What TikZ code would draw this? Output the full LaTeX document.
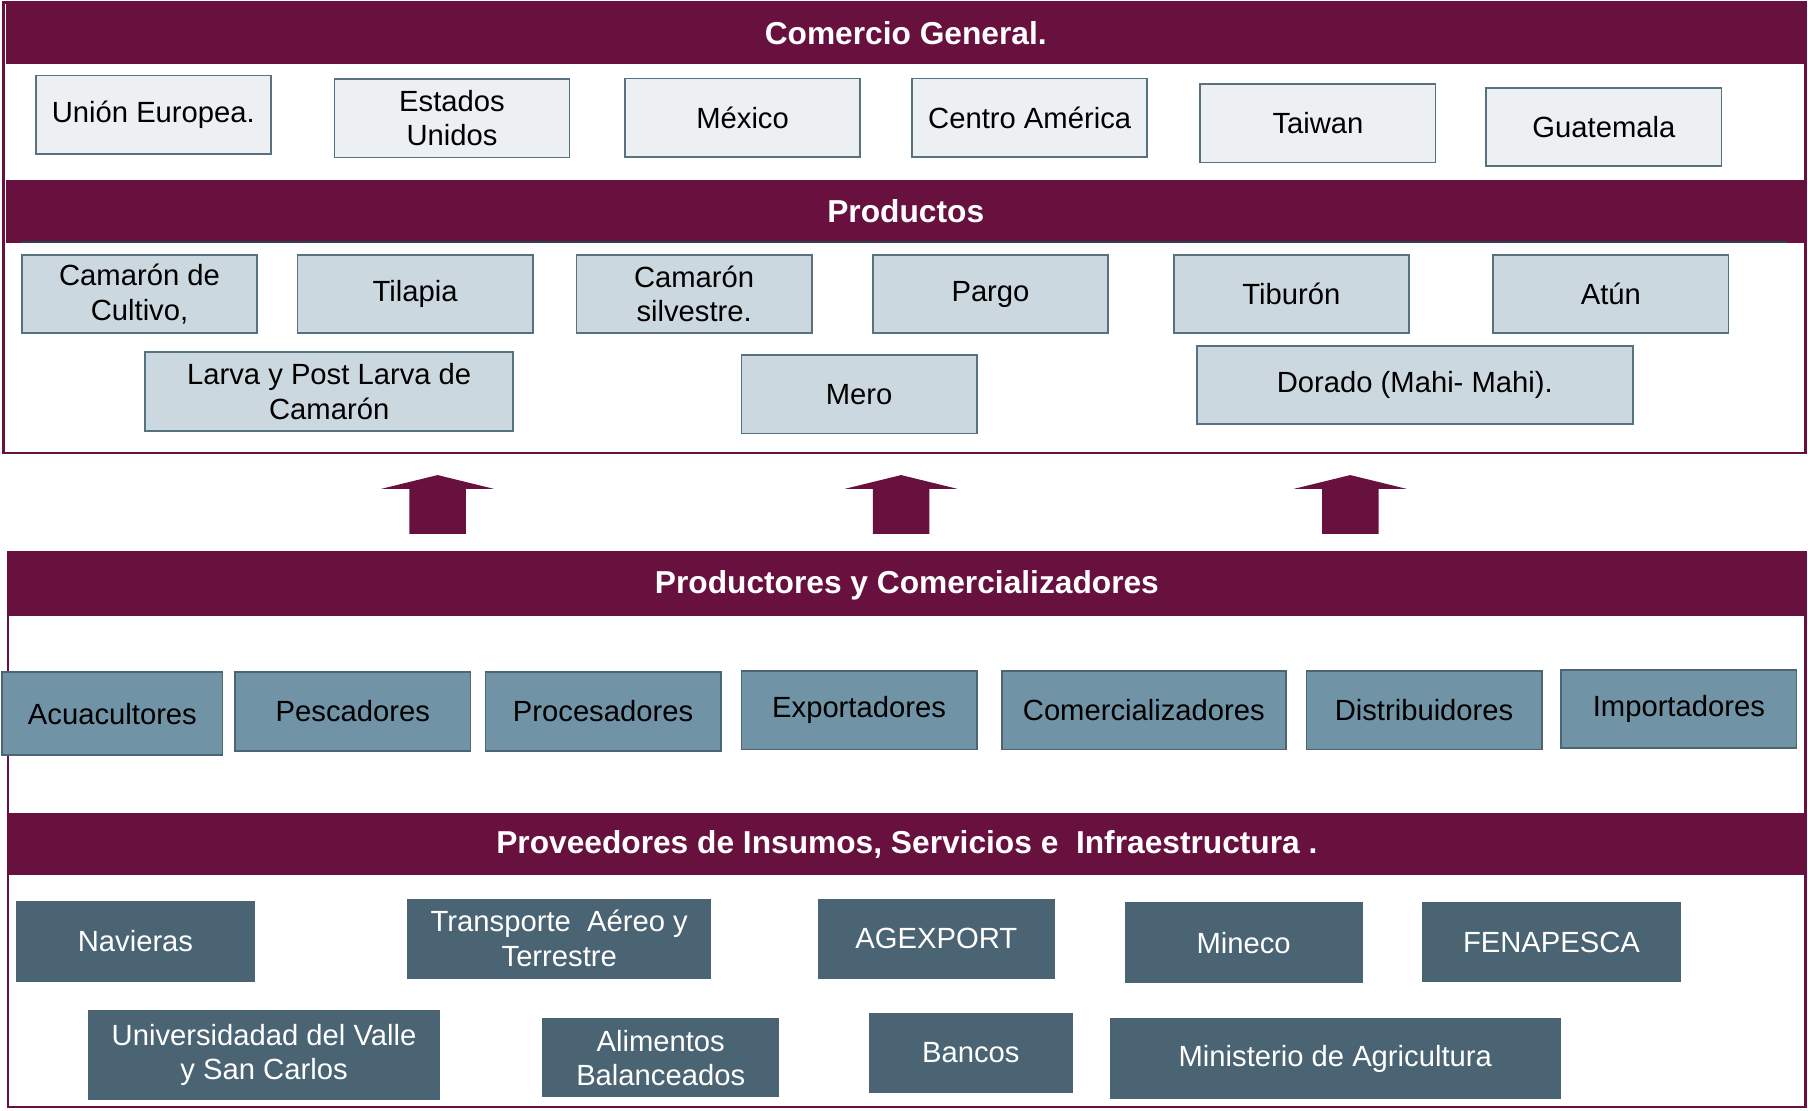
\documentclass[tikz,border=0pt]{standalone}
\usepackage{fontspec}
\setmainfont{Liberation Sans}
\usepackage{xcolor}
\usepackage{tikz}
\usetikzlibrary{shapes,arrows,positioning}

\definecolor{vino}{HTML}{68103E}
\definecolor{claro}{HTML}{ECF0F3}
\definecolor{gris}{HTML}{CCD8E0}
\definecolor{medio}{HTML}{7093A6}
\definecolor{oscuro}{HTML}{4A6473}
\definecolor{bordeA}{HTML}{57717F}
\definecolor{bordeB}{HTML}{4C6575}
\definecolor{linea}{HTML}{2B4450}

\newlength\upx
\setlength\upx{0.6pt}

\tikzstyle{banda} = [rectangle, fill=vino, text=white, inner sep=0pt,
    font=\fontsize{16.5}{19}\selectfont\bfseries, minimum width=1561\upx, minimum height=54\upx]
\tikzstyle{caja} = [rectangle, draw, line width=0.9pt, align=center, inner sep=2pt,
    font=\fontsize{15.2}{18}\selectfont, minimum width=204\upx, minimum height=68\upx]
\tikzstyle{destino} = [caja, fill=claro, draw=bordeA]
\tikzstyle{producto} = [caja, fill=gris, draw=bordeA]
\tikzstyle{actor} = [caja, fill=medio, draw=bordeB]
\tikzstyle{proveedor} = [caja, fill=oscuro, draw=oscuro, text=white]
\tikzstyle{marco} = [draw=vino, line width=1.3pt]

\begin{document}
\begin{tikzpicture}[x=0.6pt, y=-0.6pt]

    \useasboundingbox (0,0) rectangle (1568,963);

    % Frames
    \draw[marco] (3,2) rectangle (1566,393);
    \draw[marco] (7,479) rectangle (1566,960);

    % Headers
    \node [banda] (Comercio) at (785.5,28.5) {Comercio General.};
    \node [banda] (Productos) at (785.5,183.5) {Productos};
    \draw[linea, line width=1.2pt] (18,210) -- (1550,210);
    \node [banda, minimum width=1559\upx] (Productores) at (786.5,507.5) {Productores y Comercializadores};
    \node [banda, minimum width=1559\upx] (Proveedores) at (786.5,732) {Proveedores de Insumos, Servicios e\ \ Infraestructura .};

    % Countries
    \node [destino] (UE) at (133,99.5) {Unión Europea.};
    \node [destino] (EEUU) at (392,102.5) {Estados\\Unidos};
    \node [destino] (Mexico) at (644,102) {México};
    \node [destino] (CentroAmerica) at (893,102) {Centro América};
    \node [destino] (Taiwan) at (1143,107) {Taiwan};
    \node [destino] (Guatemala) at (1391,110) {Guatemala};

    % Products
    \node [producto] (CamaronCultivo) at (121,255) {Camarón de\\Cultivo,};
    \node [producto] (Tilapia) at (360,255) {Tilapia};
    \node [producto] (CamaronSilvestre) at (602,255) {Camarón\\silvestre.};
    \node [producto] (Pargo) at (859,255) {Pargo};
    \node [producto] (Tiburon) at (1120,255) {Tiburón};
    \node [producto] (Atun) at (1397,255) {Atún};
    \node [producto, minimum width=319\upx, minimum height=69\upx] (Larva) at (285.5,339.5) {Larva y Post Larva de\\Camarón};
    \node [producto] (Mero) at (745,342) {Mero};
    \node [producto, minimum width=378\upx] (Dorado) at (1227,334) {Dorado (Mahi- Mahi).};

    % Block arrows
    \foreach \c in {379.5, 781.5, 1171}
        \fill[vino] ({\c-49},424) -- (\c,412) -- ({\c+49},424) -- ({\c+24.5},424)
            -- ({\c+24.5},463) -- ({\c-24.5},463) -- ({\c-24.5},424) -- cycle;

    % Producers and traders
    \node [actor, minimum width=191\upx, minimum height=72\upx] (Acuacultores) at (97.5,619) {Acuacultores};
    \node [actor] (Pescadores) at (306,617) {Pescadores};
    \node [actor] (Procesadores) at (523,617) {Procesadores};
    \node [actor] (Exportadores) at (745,616) {Exportadores};
    \node [actor, minimum width=246\upx] (Comercializadores) at (992,616) {Comercializadores};
    \node [actor] (Distribuidores) at (1235,616) {Distribuidores};
    \node [actor] (Importadores) at (1456,615) {Importadores};

    % Suppliers
    \node [proveedor, minimum width=205\upx, minimum height=69\upx] (Navieras) at (117.5,816.5) {Navieras};
    \node [proveedor, minimum width=262\upx] (Transporte) at (485,814) {Transporte\ \ Aéreo y\\Terrestre};
    \node [proveedor] (AGEXPORT) at (812,814) {AGEXPORT};
    \node [proveedor, minimum width=205\upx, minimum height=69\upx] (Mineco) at (1078.5,817.5) {Mineco};
    \node [proveedor, minimum width=223\upx] (FENAPESCA) at (1345.5,817) {FENAPESCA};
    \node [proveedor, minimum width=304\upx, minimum height=76\upx] (Universidad) at (229,915) {Universidadad del Valle\\y San Carlos};
    \node [proveedor, minimum height=67\upx] (Alimentos) at (573,917.5) {Alimentos\\Balanceados};
    \node [proveedor, minimum width=176\upx] (Bancos) at (842,913) {Bancos};
    \node [proveedor, minimum width=390\upx] (Ministerio) at (1158,918) {Ministerio de Agricultura};

\end{tikzpicture}
\end{document}
